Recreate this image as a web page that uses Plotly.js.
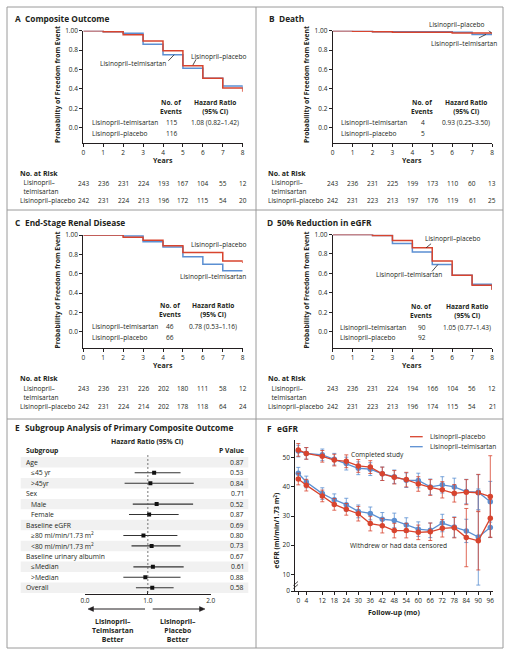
<!DOCTYPE html>
<html><head><meta charset="utf-8">
<script src="https://cdn.plot.ly/plotly-3.0.1.min.js"></script>
<style>html,body{margin:0;padding:0;background:#fff}#chart{width:512px;height:657px}</style>
</head><body><div id="chart"></div>
<script>
// ---------- DATA ----------
const years = [0,1,2,3,4,5,6,7,8];
const yearLabels = ["0","1","2","3","4","5","6","7","8"];
// Panel A: composite outcome
const A_telm = [1.00,0.99,0.973,0.859,0.752,0.612,0.51,0.43,0.40];
const A_plac = [1.00,0.99,0.959,0.893,0.794,0.639,0.509,0.409,0.37];
const A_events = ["115","116"];
const A_hr = "1.08 (0.82–1.42)";
const A_risk_telm = [243,236,231,224,193,167,104,55,12];
const A_risk_plac = [242,231,224,213,196,172,115,54,20];
// Panel B: death
const B_telm = [1.00,1.00,0.99,0.99,0.99,0.99,0.985,0.962,0.962];
const B_plac = [1.00,0.995,0.99,0.985,0.985,0.985,0.975,0.975,0.97];
const B_events = ["4","5"];
const B_hr = "0.93 (0.25–3.50)";
const B_risk_telm = [243,236,231,225,199,173,110,60,13];
const B_risk_plac = [242,231,223,213,197,176,119,61,25];
// Panel C: ESRD
const C_telm = [1.00,1.00,0.99,0.93,0.875,0.776,0.697,0.63,0.63];
const C_plac = [1.00,1.00,0.976,0.945,0.89,0.82,0.82,0.73,0.71];
const C_events = ["46","66"];
const C_hr = "0.78 (0.53–1.16)";
const C_risk_telm = [243,236,231,226,202,180,111,58,12];
const C_risk_plac = [242,231,224,214,202,178,118,64,24];
// Panel D: 50% reduction in eGFR
const D_telm = [1.00,1.00,0.99,0.908,0.819,0.69,0.58,0.488,0.44];
const D_plac = [1.00,1.00,0.99,0.939,0.863,0.727,0.58,0.478,0.43];
const D_events = ["90","92"];
const D_hr = "1.05 (0.77–1.43)";
const D_risk_telm = [243,236,231,224,194,166,104,56,12];
const D_risk_plac = [242,231,223,213,196,174,115,54,21];
// Panel E: subgroups
const subgroups = ["Age","≤45 yr",">45yr","Sex","Male","Female","Baseline eGFR",
  "≥80 ml/min/1.73 m<sup>2</sup>","<80 ml/min/1.73 m<sup>2</sup>","Baseline urinary albumin","≤Median",">Median","Overall"];
const subIndent = [0,1,1,0,1,1,0,1,1,0,1,1,0];
const sgHR = [null,1.10,1.04,null,1.14,1.02,null,0.93,1.06,null,1.08,0.96,1.07];
const sgLo = [null,0.79,0.63,null,0.76,0.70,null,0.61,0.74,null,0.77,0.61,0.81];
const sgHi = [null,1.52,1.73,null,1.72,1.49,null,1.47,1.52,null,1.57,1.52,1.41];
const sgP = ["0.87","0.53","0.84","0.71","0.52","0.87","0.69","0.80","0.73","0.67","0.61","0.88","0.58"];
const forestTicks = [0,1,2];
const forestTickText = ["0.0","1.0","2.0"];
// Panel F: eGFR over time
const months = [0,4,12,18,24,30,36,42,48,54,60,66,72,78,84,90,96];
const F_plac_comp = [52.7,51.5,50.5,49.2,48.8,47.2,46.8,44.5,43.3,42.5,41.0,39.8,39.0,37.8,38.2,38.0,36.7];
const F_plac_comp_err = [2.2,2,2,2,2.2,2.2,2.2,2.3,2.3,2.5,2.5,2.7,2.8,3,4.3,6.3,14];
const F_telm_comp = [52.3,51.5,51.0,49.5,48.0,46.4,46.1,44.5,43.5,42.3,42.2,40.0,40.7,40.0,38.4,38.2,34.9];
const F_telm_comp_err = [2,2,2,2,2.2,2.2,2.2,2.3,2.3,2.5,2.5,2.7,2.8,3,4.2,6,7];
const F_plac_wd = [42.7,40.6,36.9,34.0,32.3,30.8,27.4,26.7,25.0,25.0,24.4,24.6,25.8,26.0,22.6,21.5,29.2];
const F_plac_wd_err = [2,2,2,2,2,2.5,2.5,2.5,2.5,2.5,2.5,3,3,3.5,10,10,6.5];
const F_telm_wd = [44.7,41.7,37.7,35.6,33.9,31.6,30.9,28.9,28.5,26.9,25.5,25.1,27.6,26.2,24.9,22.8,26.1];
const F_telm_wd_err = [2,2,2,2,2.2,2.2,2.2,2.3,2.5,2.5,2.5,2.5,3,3.5,4,16.5,3.5];
const F_yTickVals = [4.27,10,20,30,40,50];
const F_yTickText = ["0","10","20","30","40","50"];

// ---------- HELPERS ----------
const W=512,H=657;
const FONT='"Open Sans", sans-serif';
const INK='#231f20';
const RED='#d8442e', BLUE='#5b8fd2';
const FS=6.6, TS=8.3;
const px=x=>x/W, py=y=>1-y/H;
const dX=(a,b)=>[px(a),px(b)], dY=(t,b)=>[py(b),py(t)];
function txt(t,x,y,o){o=o||{};
  return {text:t,xref:'paper',yref:'paper',x:px(x),y:py(y),xanchor:o.xa||'left',yanchor:'middle',
    showarrow:false,textangle:o.rot||0,font:{family:FONT,size:o.size||FS,color:o.color||INK}};}
function seg(x0,y0,x1,y1,o){o=o||{};
  return {type:'line',xref:'paper',yref:'paper',x0:px(x0),y0:py(y0),x1:px(x1),y1:py(y1),
    line:{color:o.color||'#999',width:o.width||1,dash:o.dash||'solid'}};}
function tri(pts){
  return {type:'path',xref:'paper',yref:'paper',path:'M'+pts.map(p=>px(p[0])+','+py(p[1])).join(' L')+' Z',
    fillcolor:INK,line:{color:INK,width:0.5}};}
function dseg(xr,yr,x0,y0,x1,y1){
  return {type:'line',xref:xr,yref:yr,x0:x0,y0:y0,x1:x1,y1:y1,line:{color:INK,width:0.8}};}
const axBase={showgrid:false,zeroline:false,showline:true,linecolor:INK,linewidth:1,
  ticks:'outside',ticklen:3,tickcolor:INK,tickwidth:1,tickfont:{family:FONT,size:6.5,color:INK},fixedrange:true};
function kmX(dom,anchor){return Object.assign({},axBase,{domain:dom,range:[0,8],tickvals:years,ticktext:yearLabels,anchor:anchor});}
function kmY(dom,bottom,anchor){return Object.assign({},axBase,{domain:dom,range:[bottom,1],
  tickvals:[0,0.2,0.4,0.6,0.8,1.0],ticktext:["0.0","0.2","0.4","0.6","0.8","1.00"],anchor:anchor});}

const traces=[], ann=[], shapes=[];
function km(xa,ya,telm,plac){
  traces.push({x:years,y:telm,xaxis:xa,yaxis:ya,mode:'lines',line:{shape:'hv',color:BLUE,width:1.5},cliponaxis:false,hoverinfo:'skip'});
  traces.push({x:years,y:plac,xaxis:xa,yaxis:ya,mode:'lines',line:{shape:'hv',color:RED,width:1.5},cliponaxis:false,hoverinfo:'skip'});
}
function kmText(o){
  ann.push(txt('<b>'+o.letter+'</b>',o.lx,o.ty,{size:TS}));
  ann.push(txt('<b>'+o.title+'</b>',o.lx+10,o.ty,{size:TS}));
  ann.push(txt('<b>Years</b>',o.yearsX,o.yearsY,{xa:'center',size:7}));
  ann.push(txt('<b>Probability of Freedom from Event</b>',o.ytX,o.ytY,{xa:'center',rot:-90,size:6.8}));
  ann.push(txt('<b>No. of<br>Events</b>',o.evX,(o.h1+o.h2)/2,{xa:'center'}));
  ann.push(txt('<b>Hazard Ratio<br>(95% CI)</b>',o.hrX,(o.h1+o.h2)/2,{xa:'center'}));
  ann.push(txt('Lisinopril–telmisartan',o.tblX,o.r1));
  ann.push(txt('Lisinopril–placebo',o.tblX,o.r2));
  ann.push(txt(o.events[0],o.evX,o.r1,{xa:'center'}));
  ann.push(txt(o.events[1],o.evX,o.r2,{xa:'center'}));
  ann.push(txt(o.hr,o.hrX,o.r1,{xa:'center'}));
  ann.push(txt('<b>No. at Risk</b>',o.rlx,o.ar0,{size:7}));
  ann.push(txt('Lisinopril–<br>  telmisartan',o.rlx,o.ar1+4.2));
  ann.push(txt('Lisinopril–placebo',o.rlx,o.ar2));
  o.riskT.forEach((v,i)=>ann.push({text:String(v),xref:o.xa,yref:'paper',x:years[i],y:py(o.ar1),xanchor:'center',yanchor:'middle',showarrow:false,font:{family:FONT,size:6.5,color:INK}}));
  o.riskP.forEach((v,i)=>ann.push({text:String(v),xref:o.xa,yref:'paper',x:years[i],y:py(o.ar2),xanchor:'center',yanchor:'middle',showarrow:false,font:{family:FONT,size:6.5,color:INK}}));
}

// ---------- PANELS A-D ----------
km('x','y',A_telm,A_plac);
km('x2','y2',B_telm,B_plac);
km('x3','y3',C_telm,C_plac);
km('x4','y4',D_telm,D_plac);

kmText({letter:'A',title:'Composite Outcome',lx:13,ty:18,yearsX:163,yearsY:160.7,ytX:57,ytY:85,
  evX:171.7,hrX:215,h1:104,h2:111,tblX:90,r1:122.3,r2:133.3,events:A_events,hr:A_hr,
  rlx:18.3,ar0:173.3,ar1:183.3,ar2:200,riskT:A_risk_telm,riskP:A_risk_plac,xa:'x'});
kmText({letter:'B',title:'Death',lx:266.5,ty:18,yearsX:412,yearsY:160.7,ytX:306,ytY:85,
  evX:422.7,hrX:466,h1:104,h2:111,tblX:338.7,r1:122.3,r2:133.3,events:B_events,hr:B_hr,
  rlx:266,ar0:173.3,ar1:183.3,ar2:200,riskT:B_risk_telm,riskP:B_risk_plac,xa:'x2'});
kmText({letter:'C',title:'End-Stage Renal Disease',lx:13,ty:222.5,yearsX:163,yearsY:365,ytX:57,ytY:290.5,
  evX:170,hrX:213.3,h1:305.7,h2:313.3,tblX:90,r1:326.7,r2:337.3,events:C_events,hr:C_hr,
  rlx:18.3,ar0:378.3,ar1:388.3,ar2:406.7,riskT:C_risk_telm,riskP:C_risk_plac,xa:'x3'});
kmText({letter:'D',title:'50% Reduction in eGFR',lx:264.5,ty:222.5,yearsX:412,yearsY:365,ytX:306,ytY:290.5,
  evX:421.7,hrX:467,h1:307.7,h2:315,tblX:337.7,r1:327.3,r2:337.7,events:D_events,hr:D_hr,
  rlx:266,ar0:378.3,ar1:388.3,ar2:406.7,riskT:D_risk_telm,riskP:D_risk_plac,xa:'x4'});

// curve labels
ann.push(txt('Lisinopril–telmisartan',167.5,63.3,{xa:'right'}));
ann.push(txt('Lisinopril–placebo',189,56.7));
shapes.push(dseg('x','y',4.27,0.69,4.56,0.752));
shapes.push(dseg('x','y',5.66,0.705,5.5,0.645));
ann.push(txt('Lisinopril–placebo',426.7,24.3));
ann.push(txt('Lisinopril–telmisartan',429.3,43.3));
shapes.push(dseg('x2','y2',7.64,1.035,7.97,0.978));
shapes.push(dseg('x2','y2',7.34,0.925,7.70,0.962));
ann.push(txt('Lisinopril–placebo',188.7,244.3));
ann.push(txt('Lisinopril–telmisartan',178.3,276));
ann.push(txt('Lisinopril–placebo',422.7,238.3));
ann.push(txt('Lisinopril–telmisartan',374.3,275));
shapes.push(dseg('x4','y4',4.94,0.905,4.69,0.863));
shapes.push(dseg('x4','y4',4.99,0.62,5.28,0.69));

// ---------- PANEL E ----------
ann.push(txt('<b>E</b>',13,427,{size:TS}));
ann.push(txt('<b>Subgroup Analysis of Primary Composite Outcome</b>',23,427,{size:TS}));
ann.push(txt('<b>Hazard Ratio (95% CI)</b>',147,441.7,{xa:'center',size:6.8}));
ann.push(txt('<b>Subgroup</b>',24,450,{size:6.8}));
ann.push(txt('<b>P Value</b>',246,450,{xa:'right',size:6.8}));
subgroups.forEach((s,i)=>{
  if(i%2===0) shapes.push({type:'rect',xref:'paper',yref:'y5',x0:px(20.7),x1:px(248.3),y0:i-0.5,y1:i+0.5,
    fillcolor:'#f1f1f1',line:{width:0},layer:'below'});
  ann.push({text:s,xref:'paper',yref:'y5',x:px(subIndent[i]?29.3:24),y:i,xanchor:'left',yanchor:'middle',showarrow:false,
    font:{family:FONT,size:6.8,color:INK}});
  ann.push({text:sgP[i],xref:'paper',yref:'y5',x:px(246),y:i,xanchor:'right',yanchor:'middle',showarrow:false,
    font:{family:FONT,size:6.8,color:INK}});
});
shapes.push({type:'line',xref:'x5',yref:'y5',x0:1,x1:1,y0:-0.7,y1:12.6,line:{color:'#555',width:0.8,dash:'2px,2px'}});
const fIdx=[],fHR=[],fPlus=[],fMinus=[];
sgHR.forEach((v,i)=>{if(v!==null){fIdx.push(i);fHR.push(v);fPlus.push(+(sgHi[i]-v).toFixed(3));fMinus.push(+(v-sgLo[i]).toFixed(3));}});
traces.push({x:fHR,y:fIdx,xaxis:'x5',yaxis:'y5',mode:'markers',marker:{symbol:'square',size:4,color:'#111'},
  error_x:{type:'data',symmetric:false,array:fPlus,arrayminus:fMinus,width:0,thickness:1.1,color:'#333'},hoverinfo:'skip'});
// direction arrows
shapes.push(seg(145,609,92,609,{color:INK,width:1}));
shapes.push(tri([[88,609],[93.5,606.6],[93.5,611.4]]));
shapes.push(seg(152.7,609,201,609,{color:INK,width:1}));
shapes.push(tri([[205,609],[199.5,606.6],[199.5,611.4]]));
ann.push(txt('<b>Lisinopril–<br>Telmisartan<br>Better</b>',113,630,{xa:'center',size:6.9}));
ann.push(txt('<b>Lisinopril–<br>Placebo<br>Better</b>',178,630,{xa:'center',size:6.9}));

// ---------- PANEL F ----------
ann.push(txt('<b>F</b>',264.5,428.3,{size:TS}));
ann.push(txt('<b>eGFR</b>',274.5,428.3,{size:TS}));
function fTrace(y,err,color){
  return {x:months,y:y,xaxis:'x6',yaxis:'y6',mode:'lines+markers',line:{color:color,width:1.3},
    marker:{color:color,size:5.5,symbol:'circle'},
    error_y:{type:'data',array:err,visible:true,color:color,thickness:0.8,width:2},cliponaxis:false,hoverinfo:'skip'};
}
traces.push(fTrace(F_telm_comp,F_telm_comp_err,BLUE));
traces.push(fTrace(F_plac_comp,F_plac_comp_err,RED));
traces.push(fTrace(F_telm_wd,F_telm_wd_err,BLUE));
traces.push(fTrace(F_plac_wd,F_plac_wd_err,RED));
shapes.push(seg(410,436.7,422.7,436.7,{color:RED,width:1.3}));
shapes.push(seg(410,446.7,422.7,446.7,{color:BLUE,width:1.3}));
ann.push(txt('Lisinopril–placebo',427.7,436.7));
ann.push(txt('Lisinopril–telmisartan',427.7,446.7));
ann.push(txt('Completed study',377.7,454.3,{xa:'center'}));
ann.push(txt('Withdrew or had data censored',398.7,545.7,{xa:'center'}));
ann.push(txt('<b>Follow-up (mo)</b>',394.3,612.7,{xa:'center',size:7}));
ann.push(txt('<b>eGFR (ml/min/1.73 m<sup>2</sup>)</b>',276,530.5,{xa:'center',rot:-90,size:6.8}));
shapes.push(seg(293.3,585.5,298,581.5,{color:INK,width:0.8}));
shapes.push(seg(293.3,588.5,298,584.5,{color:INK,width:0.8}));

// ---------- FRAMES ----------
shapes.push({type:'rect',xref:'paper',yref:'paper',x0:px(7),y0:py(648),x1:px(503),y1:py(7),line:{color:'#9a9a9a',width:1}});
shapes.push(seg(7,210,503,210,{color:'#9a9a9a'}));
shapes.push(seg(7,419,503,419,{color:'#9a9a9a'}));
shapes.push(seg(256,7,256,648,{color:'#9a9a9a'}));

const layout={
  width:W,height:H,margin:{l:0,r:0,t:0,b:0},paper_bgcolor:'#fff',plot_bgcolor:'rgba(0,0,0,0)',
  showlegend:false,font:{family:FONT,size:7,color:INK},
  xaxis:kmX(dX(83.3,242.7),'y'), yaxis:kmY(dY(30.7,143.3),-0.161,'x'),
  xaxis2:kmX(dX(332.7,492),'y2'), yaxis2:kmY(dY(30.7,143.3),-0.161,'x2'),
  xaxis3:kmX(dX(83.3,242.7),'y3'), yaxis3:kmY(dY(235,347.7),-0.165,'x3'),
  xaxis4:kmX(dX(332.7,492),'y4'), yaxis4:kmY(dY(234.5,347.7),-0.165,'x4'),
  xaxis5:Object.assign({},axBase,{domain:dX(85,210.7),range:[0,2],tickvals:forestTicks,ticktext:forestTickText,ticks:'inside',anchor:'y5'}),
  yaxis5:{domain:dY(455,594),range:[12.6,-0.7],visible:false,showgrid:false,zeroline:false,fixedrange:true,anchor:'x5'},
  xaxis6:Object.assign({},axBase,{domain:dX(295.3,492.7),range:[-1.5,97.2],tickvals:months,ticktext:months.map(String),anchor:'y6'}),
  yaxis6:Object.assign({},axBase,{domain:dY(440,591),range:[4.27,56.1],tickvals:F_yTickVals,ticktext:F_yTickText,anchor:'x6'}),
  annotations:ann, shapes:shapes
};
Plotly.newPlot('chart',traces,layout,{staticPlot:true,displayModeBar:false});
</script></body></html>
